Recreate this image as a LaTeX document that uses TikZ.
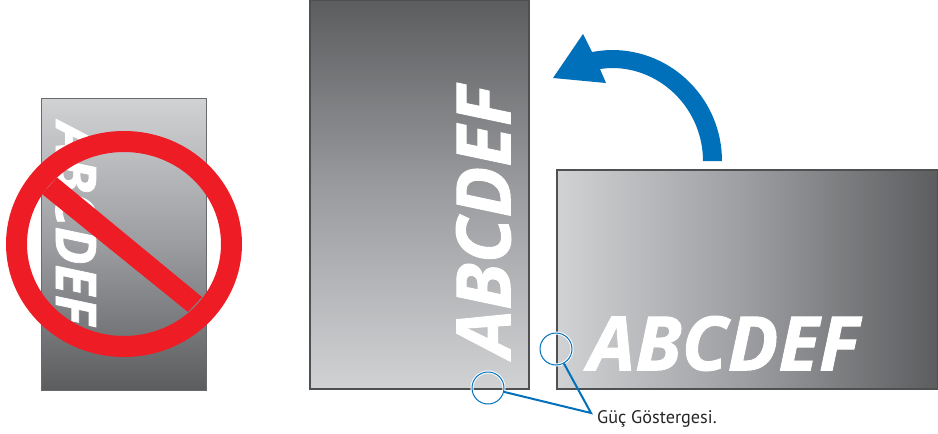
\documentclass[tikz,border=0pt]{standalone}
\usepackage{fontspec}
\setmainfont{Open Sans}
\newfontfamily\heavyfont[FakeBold=1.2]{Open Sans}
\newfontfamily\labelfont{PT Sans}
\definecolor{gLight}{HTML}{D1D2D4}
\definecolor{gMid}{HTML}{9C9DA0}
\definecolor{gDark}{HTML}{5C5D5F}
\definecolor{frameC}{HTML}{4F5052}
\definecolor{arrowBlue}{HTML}{0070BB}
\definecolor{stopRed}{HTML}{EE1C25}
\tikzset{
  panel/.style={draw=frameC,line width=1.4pt},
  thinpanel/.style={draw=frameC!85,line width=1pt},
  bigtext/.style={text=white,inner sep=0pt},
  pin/.style={circle,draw=arrowBlue,line width=1pt,minimum size=32pt,inner sep=0pt,preaction={draw=white,line width=3pt}},
  leader/.style={draw=arrowBlue,line width=2pt},
}
\begin{document}
\begin{tikzpicture}[x=1pt,y=-1pt]
\useasboundingbox (0,0) rectangle (938,434);
% left panel
\path[thinpanel,top color=gLight,bottom color=gDark,middle color=gMid] (41,98) rectangle (206,390);
\node[bigtext,rotate=-90,anchor=center,font=\heavyfont\fontsize{56}{56}\selectfont\bfseries\itshape] (lefttext) at (76,223.5) {ABCDEF};
\fill[stopRed,even odd rule] (124,244) ellipse [x radius=118,y radius=113] (124,244) ellipse [x radius=97,y radius=92];
\path[fill=stopRed] (57,177.5) -- (42,194) -- (188,312) -- (202,297) -- cycle;
% middle panel
\path[panel,top color=gDark,bottom color=gLight,middle color=gMid] (310,0) rectangle (529,389);
\node[bigtext,rotate=90,anchor=center,font=\heavyfont\fontsize{75}{75}\selectfont\bfseries\itshape] (midtext) at (483.5,221.5) {ABCDEF};
% right panel
\path[panel,left color=gLight,right color=gDark,middle color=gMid] (557,170) rectangle (938,389);
\node[bigtext,anchor=center,font=\heavyfont\fontsize{75}{75}\selectfont\bfseries\itshape] (righttext) at (723.5,343.5) {ABCDEF};
% arrow
\fill[arrowBlue] (722,161) .. controls (722,100) and (673,50) .. (612,50)
  .. controls (605,50) and (598,51) .. (592,52) -- (583,34) -- (553,78) -- (606,83) -- (600,69)
  .. controls (604,68.5) and (608,68) .. (612,68)
  .. controls (662,68) and (703,110) .. (703,161) -- cycle;
% power indicators
\node[pin] (pinA) at (488,388) {};
\node[pin] (pinB) at (556,349) {};
\coordinate (join) at (591,413);
\draw[leader,line join=miter] (pinA) -- (join) -- (pinB);
\node[anchor=west,inner sep=0pt,font=\labelfont\fontsize{18.2}{20}\selectfont,text=black!85] (label) at (597,419) {Güç Göstergesi.};
\end{tikzpicture}
\end{document}
